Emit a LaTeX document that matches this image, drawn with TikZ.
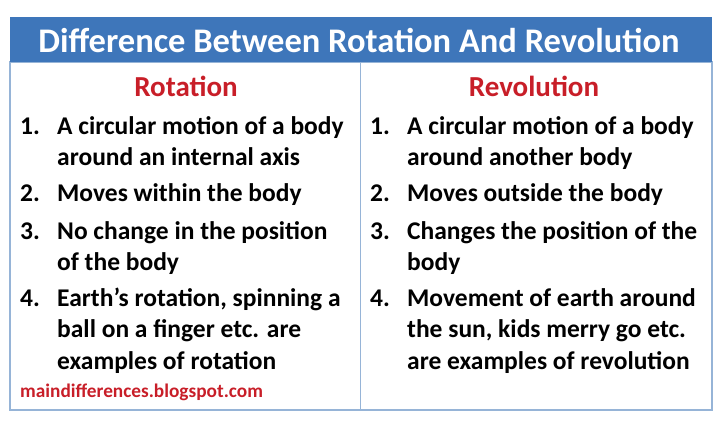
\documentclass[tikz,border=0pt]{standalone}
\usepackage{fontspec}
\setmainfont{Carlito}
\usetikzlibrary{positioning}
\definecolor{hdrblue}{RGB}{62,118,186}
\definecolor{hdrred}{RGB}{200,30,40}
\definecolor{frameblue}{RGB}{150,180,215}
\newcommand{\diffitem}[2]{\begin{tabular}[t]{@{}p{37pt}@{}l@{}}#1&#2\end{tabular}}
\tikzset{
  itemrow/.style={anchor=base west, inner sep=0pt, font=\bfseries\fontsize{25.5}{31.5}\selectfont},
  colhead/.style={text=hdrred, inner sep=0pt, font=\bfseries\fontsize{29}{32}\selectfont}
}
\begin{document}
\begin{tikzpicture}[x=1pt,y=-1pt]
\useasboundingbox (0,0) rectangle (720,424);
% frame and header
\draw[frameblue, line width=1.2pt] (10,62) rectangle (712,410);
\draw[frameblue, line width=1pt] (360,62) -- (360,410);
\fill[hdrblue] (10,17) rectangle (712,62);
\node[text=white, font=\bfseries\fontsize{34.5}{38}\selectfont] (title) at (359,40) {Difference Between Rotation And Revolution};
\node[colhead] (rot) at (186,86) {Rotation};
\node[colhead] (rev) at (534,86) {Revolution};

% left column
\renewcommand{\arraystretch}{1.0}
\node[itemrow] (l1) at (20,134) {\diffitem{1.}{A circular motion of a body\\ & around an internal axis}};
\node[itemrow] (l2) at (20,201) {\diffitem{2.}{Moves within the body}};
\node[itemrow] (l3) at (20,239) {\diffitem{3.}{No change in the position\\ & of the body}};
\node[itemrow] (l4) at (20,306) {\diffitem{4.}{Earth’s rotation, spinning a\\ & ball on a finger etc. are\\ & examples of rotation}};

% right column
\node[itemrow] (r1) at (370,134) {\diffitem{1.}{A circular motion of a body\\ & around another body}};
\node[itemrow] (r2) at (370,201) {\diffitem{2.}{Moves outside the body}};
\node[itemrow] (r3) at (370,239) {\diffitem{3.}{Changes the position of the\\ & body}};
\node[itemrow] (r4) at (370,306) {\diffitem{4.}{Movement of earth around\\ & the sun, kids merry go etc.\\ & are examples of revolution}};

\node[anchor=west, inner sep=0pt, text=hdrred, font=\bfseries\fontsize{19.3}{22}\selectfont] (site) at (20,392) {maindifferences.blogspot.com};
\end{tikzpicture}
\end{document}
